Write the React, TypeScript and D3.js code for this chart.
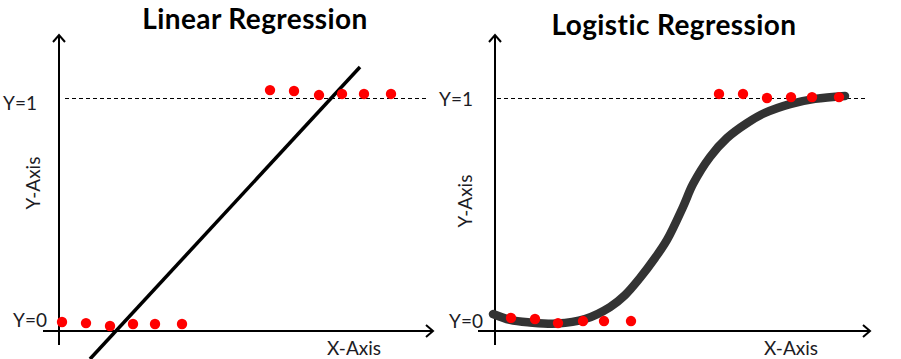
import React from "react";
import * as d3 from "d3";

// ---- data (x in arbitrary units 0..15, y: 0 = class 0, 1 = class 1) ----
const linTopX = [8.44, 9.4, 10.4, 11.32, 12.2, 13.28];
const linTopY = [1.035, 1.031, 1.013, 1.018, 1.018, 1.018];
const linBotX = [0.12, 1.08, 2.04, 2.96, 3.84, 4.92];
const linBotY = [0.009, 0.004, -0.009, 0.0, 0.0, 0.0];
const linFitX = [1.24, 12.04];
const linFitY = [-0.155, 1.137];

const logTopX = [8.96, 9.92, 10.88, 11.84, 12.68, 13.76];
const logTopY = [1.018, 1.018, 1.0, 1.004, 1.004, 1.004];
const logBotX = [0.64, 1.6, 2.52, 3.52, 4.36, 5.44];
const logBotY = [0.027, 0.022, 0.004, 0.013, 0.013, 0.013];
const sigX = [-0.08, 0.6, 1.4, 2.48, 3.6, 4.6, 5.2, 5.8, 6.4, 6.88, 7.52, 7.92, 8.6, 9.28, 10.08, 10.8, 11.8, 12.8, 14.0];
const sigY = [0.044, 0.018, 0.007, 0.002, 0.022, 0.075, 0.128, 0.204, 0.292, 0.372, 0.518, 0.619, 0.739, 0.823, 0.889, 0.934, 0.973, 0.996, 1.009];

const titles = ["Linear Regression", "Logistic Regression"];
const yTickLabels = ["Y=1", "Y=0"];
const xAxisLabel = "X-Axis";
const yAxisLabel = "Y-Axis";

const FONT = "Lato, 'Open Sans', sans-serif";
const TXT = "#1c1c24";

const yScale = d3.scaleLinear().domain([0, 1]).range([324, 98]);

function Arrow({ x, y, dir }: { x: number; y: number; dir: "up" | "right" }) {
  const s = 6;
  const d =
    dir === "up"
      ? `M${x - s},${y + s + 1} L${x},${y} L${x + s},${y + s + 1}`
      : `M${x - s - 1},${y - s} L${x},${y} L${x - s - 1},${y + s}`;
  return <path d={d} fill="none" stroke="#000" strokeWidth={2} strokeLinejoin="miter" />;
}

function Panel(props: {
  x0: number;
  title: string;
  titleX: number;
  titleY: number;
  xAxisLeft: number;
  xAxisRight: number;
  dashFrom: number;
  dashTo: number;
  y1Base: number;
  y0Base: number;
  yLabY: number;
  yLabBase: number;
  xLabX: number;
  topX: number[];
  topY: number[];
  botX: number[];
  botY: number[];
  children?: (x: d3.ScaleLinear<number, number>) => React.ReactNode;
}) {
  const x = d3.scaleLinear().domain([0, 15]).range([props.x0, props.x0 + 375]);
  const axisY = 331;
  const pts = [
    ...props.topX.map((v, i) => [v, props.topY[i]]),
    ...props.botX.map((v, i) => [v, props.botY[i]]),
  ];
  return (
    <g>
      <text x={props.titleX} y={props.titleY} textAnchor="middle" fontFamily={FONT} fontWeight={700} fontSize={28} letterSpacing={0.4} fill="#000">
        {props.title}
      </text>
      {/* dashed Y=1 line */}
      <line x1={props.dashFrom} x2={props.dashTo} y1={yScale(1) + 0.5} y2={yScale(1) + 0.5} stroke="#000" strokeWidth={1} strokeDasharray="4,3" />
      {/* axes */}
      <line x1={props.x0} x2={props.x0} y1={36} y2={345} stroke="#000" strokeWidth={2} />
      <Arrow x={props.x0} y={35} dir="up" />
      <line x1={props.xAxisLeft} x2={props.xAxisRight - 1} y1={axisY} y2={axisY} stroke="#000" strokeWidth={2} />
      <Arrow x={props.xAxisRight} y={axisY} dir="right" />
      {/* labels */}
      <text x={props.x0 - 22} y={props.y1Base} textAnchor="end" fontFamily={FONT} fontSize={19} fill={TXT}>{yTickLabels[0]}</text>
      <text x={props.x0 - 12} y={props.y0Base} textAnchor="end" fontFamily={FONT} fontSize={19} fill={TXT}>{yTickLabels[1]}</text>
      <text x={props.xLabX} y={355} textAnchor="middle" fontFamily={FONT} fontSize={19} fill={TXT}>{xAxisLabel}</text>
      <text
        transform={`translate(${props.yLabBase},${props.yLabY}) rotate(-90)`}
        textAnchor="middle"
        fontFamily={FONT}
        fontSize={19}
        fill={TXT}
      >
        {yAxisLabel}
      </text>
      {props.children && props.children(x)}
      {pts.map((p, i) => (
        <circle key={i} cx={x(p[0])} cy={yScale(p[1])} r={5.2} fill="#ff0000" />
      ))}
    </g>
  );
}

export default function App() {
  return (
    <svg width={901} height={359} style={{ position: "absolute", left: 0, top: 0, background: "#fff" }}>
      <rect width={901} height={359} fill="#fff" />
      <Panel
        x0={59}
        title={titles[0]}
        titleX={255}
        titleY={29}
        xAxisLeft={43}
        xAxisRight={433}
        dashFrom={65}
        dashTo={428}
        y1Base={110}
        y0Base={327}
        yLabY={183}
        yLabBase={40}
        xLabX={354}
        topX={linTopX}
        topY={linTopY}
        botX={linBotX}
        botY={linBotY}
      >
        {(x) => (
          <line
            x1={x(linFitX[0])}
            y1={yScale(linFitY[0])}
            x2={x(linFitX[1])}
            y2={yScale(linFitY[1])}
            stroke="#000"
            strokeWidth={3.5}
          />
        )}
      </Panel>
      <Panel
        x0={495}
        title={titles[1]}
        titleX={674}
        titleY={35}
        xAxisLeft={478}
        xAxisRight={870}
        dashFrom={497}
        dashTo={868}
        y1Base={106}
        y0Base={328}
        yLabY={201}
        yLabBase={472}
        xLabX={791}
        topX={logTopX}
        topY={logTopY}
        botX={logBotX}
        botY={logBotY}
      >
        {(x) => {
          const line = d3
            .line<number>()
            .x((d, i) => x(sigX[i]))
            .y((d) => yScale(d))
            .curve(d3.curveCatmullRom);
          return <path d={line(sigY) || ""} fill="none" stroke="#333" strokeWidth={8.5} strokeLinecap="round" />;
        }}
      </Panel>
    </svg>
  );
}
